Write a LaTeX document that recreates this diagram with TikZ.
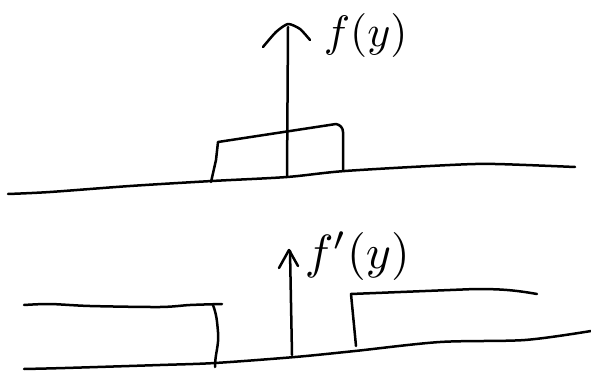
\documentclass[tikz,border=0pt]{standalone}
\begin{document}
\begin{tikzpicture}[x=1pt,y=-1pt,
  pen/.style={line width=2.5pt,line cap=round,line join=round,black},
  lbl/.style={inner sep=0pt}]
\useasboundingbox (0,0) rectangle (591,374);

% ---- upper sketch: f(y) ----
\draw[pen] plot[smooth,tension=0.5] coordinates
  {(8,194) (50,192) (130,186) (212,181) (287,177) (345,171) (450,165) (495,164) (575,167)};
% raised box
\draw[pen] (211,182) -- (216,160) -- (218,142) -- (336,124)
  to[out=-10,in=90] (343,132) -- (343,170);
% vertical arrow with hand-drawn caret
\coordinate (ubase) at (287,177);
\coordinate (utip) at (288,27);
\draw[pen] (ubase) -- (utip);
\draw[pen] plot[smooth,tension=0.4] coordinates
  {(263,47) (276,32) (288,24) (300,29) (310,40)};
\node[lbl,anchor=west,scale=4.4] (ulabel) at (323,36) {$f(y)$};

% ---- lower sketch: f'(y) ----
\draw[pen] plot[smooth,tension=0.5] coordinates
  {(24,369) (65,368) (160,365) (215,363) (295,357) (355,351) (440,342) (525,340) (591,331)};
% left step
\draw[pen] plot[smooth,tension=0.5] coordinates
  {(24,305) (50,304) (90,306) (160,307) (190,305) (222,304)};
\draw[pen] (213,305) to[out=-70,in=95] (218,332) to[out=-85,in=90] (215,367);
% right step
\draw[pen] (356,346) -- (351,294) -- (475,289) to[out=0,in=170] (537,294);
% vertical arrow with caret
\coordinate (lbase) at (292,355);
\coordinate (ltip) at (290,251);
\draw[pen] (lbase) -- (ltip);
\draw[pen] (279,268) -- (289,250) -- (298,266);
\node[lbl,anchor=west,scale=4.8] (llabel) at (304,256) {$f'(y)$};
\end{tikzpicture}
\end{document}
